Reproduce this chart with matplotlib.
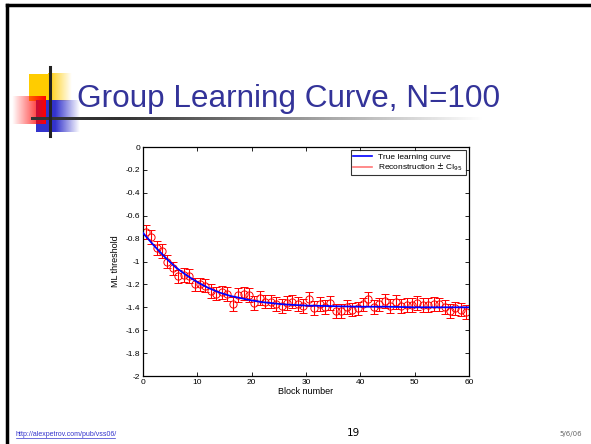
import numpy as np
import matplotlib
matplotlib.use('Agg')
import matplotlib.pyplot as plt
from matplotlib.lines import Line2D

# block centres and reconstructed thresholds
blocks = np.arange(0.5, 60, 1.0)
recon = [-0.74, -0.785, -0.88, -0.91, -1.00, -1.06, -1.13, -1.12, -1.125, -1.20,
         -1.20, -1.21, -1.26, -1.28, -1.27, -1.285, -1.37, -1.295, -1.28, -1.29,
         -1.36, -1.32, -1.35, -1.35, -1.37, -1.39, -1.36, -1.35, -1.37,
         -1.39, -1.33, -1.405, -1.37, -1.395, -1.36, -1.435, -1.43, -1.40, -1.42,
         -1.41, -1.375, -1.33, -1.40, -1.375, -1.345, -1.39, -1.355, -1.39, -1.38,
         -1.38, -1.36, -1.38, -1.38, -1.37, -1.375, -1.40, -1.43, -1.41, -1.42, -1.44]
ci95 = 0.06

# true learning curve
true_x = [0, 2, 4, 6, 8, 10, 12, 14, 16, 18, 20, 22, 24, 26, 28, 30, 35, 40, 45, 50, 55, 60]
true_y = [-0.75, -0.86, -0.96, -1.05, -1.12, -1.18, -1.23, -1.27, -1.30, -1.32, -1.34,
          -1.355, -1.365, -1.375, -1.38, -1.385, -1.39, -1.395, -1.395, -1.40, -1.40, -1.40]

W, H = 591, 444
fig = plt.figure(figsize=(W / 100, H / 100), dpi=100)

# slide decorations drawn in pixel coordinates
deco = fig.add_axes([0, 0, 1, 1])
deco.set_xlim(0, W)
deco.set_ylim(H, 0)
deco.axis('off')

def grad(x0, x1, y0, y1, rgb, reverse=False, z=1):
    a = np.linspace(1, 0, 64)
    if reverse:
        a = a[::-1]
    img = np.ones((1, 64, 4))
    img[..., :3] = rgb
    img[0, :, 3] = a
    deco.imshow(img, extent=(x0, x1, y1, y0), aspect='auto', zorder=z, interpolation='bilinear')

grad(48, 72, 74, 101, (1.0, 0.8, 0.0), z=1)
deco.fill_between([29, 48], 74, 101, color='#ffcc00', lw=0, zorder=1)
grad(55, 80, 100, 132, (0.2, 0.2, 0.8), z=2)
deco.fill_between([36, 55], 100, 132, color='#3333cc', lw=0, zorder=2)
grad(12, 46, 96, 124, (1.0, 0.0, 0.0), reverse=True, z=3)
deco.plot([50, 50], [67, 136], color='#222222', lw=2.2, zorder=5)
# fading horizontal rule
rule = np.zeros((1, 128, 4))
rule[0, :, 3] = np.clip(1.25 - np.linspace(0, 1.25, 128), 0, 1)
rule[0, :, :3] = 0.2
deco.imshow(rule, extent=(31, 485, 120.5, 117.5), aspect='auto', zorder=4, interpolation='bilinear')
deco.set_xlim(0, W)
deco.set_ylim(H, 0)

# slide frame
deco.plot([7, W], [5, 5], color='black', lw=2.5, zorder=6)
deco.plot([7, 7], [5, H], color='black', lw=2.5, zorder=6)

title = deco.text(77, 107, 'Group Learning Curve, N=100', color='#333399', fontsize=26,
                  family='Liberation Sans', va='baseline', ha='left')
# fit the title to the width it has on the slide
r = fig.canvas.get_renderer()
tw = title.get_window_extent(r).width
title.set_fontsize(26 * 424 / tw)

deco.text(16, 436, 'http://alexpetrov.com/pub/vss06/', color='#3333cc', fontsize=5,
          family='Liberation Sans', va='baseline', ha='left')
deco.plot([16, 115], [437.5, 437.5], color='#3333cc', lw=0.5)
deco.text(353, 436, '19', color='black', fontsize=7.5, family='DejaVu Sans',
          va='baseline', ha='center')
deco.text(582, 436, '5/6/06', color='#666666', fontsize=5, family='DejaVu Sans',
          va='baseline', ha='right')

# the chart itself
ax = fig.add_axes([143 / W, 1 - 376 / H, 326 / W, 229 / H])
ax.plot(true_x, true_y, color='blue', lw=1.3, zorder=3)
ax.errorbar(blocks, recon, yerr=ci95, fmt='o', color='red', mfc='none', mec='red',
            ms=5.2, mew=0.7, elinewidth=0.8, capsize=3, capthick=0.8, zorder=2)
ax.set_xlim(0, 60)
ax.set_ylim(-2, 0)
ax.set_xticks(range(0, 61, 10))
ax.set_yticks(np.arange(-2, 0.01, 0.2))
ax.set_yticklabels(['-2', '-1.8', '-1.6', '-1.4', '-1.2', '-1', '-0.8', '-0.6', '-0.4', '-0.2', '0'])
ax.tick_params(direction='in', top=True, right=True, labelsize=6, length=3, width=0.6, pad=2)
for lab in ax.get_xticklabels() + ax.get_yticklabels():
    lab.set_family('Liberation Sans')
for s in ax.spines.values():
    s.set_linewidth(0.9)
ax.set_xlabel('Block number', fontsize=6.5, family='Liberation Sans', labelpad=1)
ax.set_ylabel('ML threshold', fontsize=6.5, family='Liberation Sans', labelpad=4)

handles = [Line2D([], [], color='blue', lw=1.2),
           Line2D([], [], color='#ff7777', lw=1.2)]
leg = ax.legend(handles, ['True learning curve', r'Reconstruction $\pm$ CI$_{95}$'],
                loc='upper right', frameon=True, fancybox=False,
                borderpad=0.3, handlelength=2.2, labelspacing=0.1, borderaxespad=0.4,
                prop={'family': 'Liberation Sans', 'size': 6})
leg.get_frame().set_edgecolor('black')
leg.get_frame().set_linewidth(0.8)

fig.savefig('out.png', dpi=100)
